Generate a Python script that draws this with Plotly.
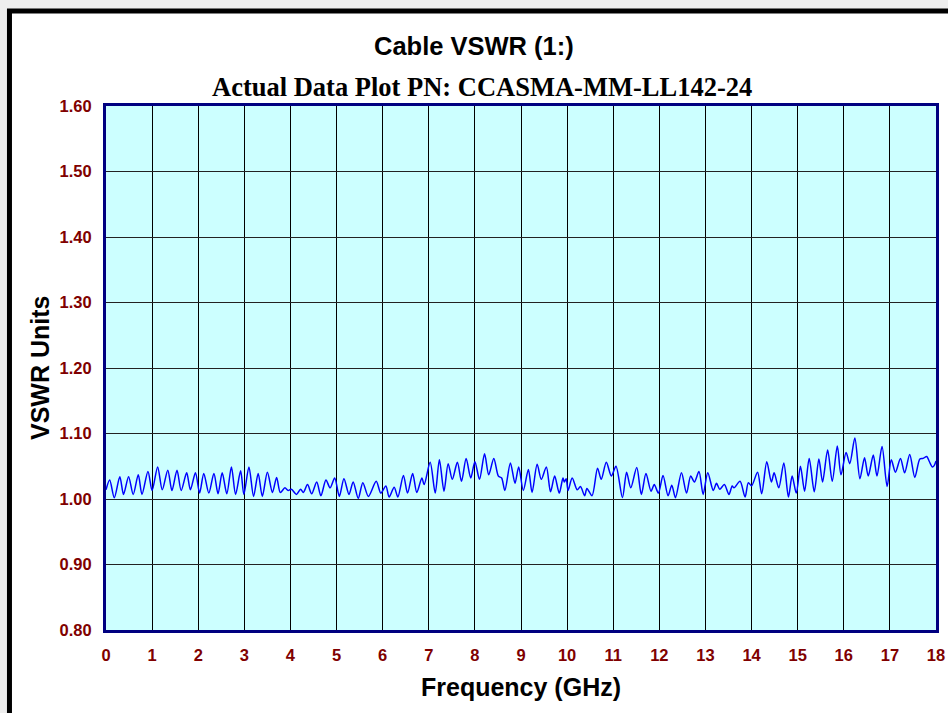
import plotly.graph_objects as go

freq_ghz = [
    0.00, 0.08, 0.18, 0.30, 0.38, 0.49, 0.59, 0.70, 0.78, 0.91, 1.00, 1.12, 1.22, 1.34, 1.43,
    1.54, 1.63, 1.75, 1.83, 1.94, 2.03, 2.12, 2.23, 2.34, 2.43, 2.52, 2.62, 2.72, 2.81, 2.92,
    2.99, 3.10, 3.20, 3.30, 3.39, 3.50, 3.61, 3.70, 3.78, 3.88, 3.95, 4.02, 4.13, 4.22, 4.28,
    4.37, 4.46, 4.57, 4.66, 4.77, 4.86, 4.96, 5.06, 5.16, 5.27, 5.36, 5.47, 5.57, 5.69, 5.86,
    5.96, 6.07, 6.14, 6.25, 6.33, 6.45, 6.54, 6.65, 6.74, 6.85, 6.90, 7.03, 7.14, 7.23, 7.33,
    7.42, 7.51, 7.62, 7.71, 7.81, 7.91, 8.00, 8.10, 8.21, 8.30, 8.41, 8.51, 8.58, 8.65, 8.77,
    8.87, 8.95, 9.05, 9.16, 9.24, 9.35, 9.44, 9.55, 9.64, 9.73, 9.83, 9.91, 9.94, 9.98, 10.02,
    10.11, 10.22, 10.29, 10.38, 10.43, 10.54, 10.66, 10.74, 10.85, 10.96, 11.06, 11.20, 11.29, 11.38, 11.51,
    11.61, 11.71, 11.82, 11.89, 11.98, 12.08, 12.19, 12.27, 12.35, 12.48, 12.59, 12.68, 12.76, 12.86, 12.95,
    13.05, 13.17, 13.24, 13.31, 13.41, 13.51, 13.58, 13.62, 13.75, 13.86, 13.93, 14.00, 14.13, 14.22, 14.33,
    14.43, 14.49, 14.59, 14.70, 14.80, 14.88, 14.97, 15.06, 15.15, 15.25, 15.36, 15.46, 15.54, 15.65, 15.75,
    15.86, 15.94, 16.05, 16.13, 16.24, 16.35, 16.45, 16.53, 16.64, 16.72, 16.83, 16.94, 17.03, 17.12, 17.23,
    17.32, 17.43, 17.54, 17.65, 17.72, 17.80, 17.85, 17.92, 17.96, 18.00,
]

vswr = [
    1.014, 1.029, 1.002, 1.034, 1.007, 1.034, 1.007, 1.037, 1.007, 1.042, 1.013, 1.049, 1.014, 1.044, 1.013,
    1.044, 1.013, 1.040, 1.014, 1.040, 1.009, 1.039, 1.009, 1.039, 1.008, 1.040, 1.008, 1.049, 1.007, 1.043,
    1.007, 1.049, 1.004, 1.039, 1.004, 1.041, 1.010, 1.033, 1.010, 1.017, 1.013, 1.015, 1.007, 1.015, 1.010,
    1.022, 1.008, 1.026, 1.005, 1.029, 1.017, 1.032, 1.004, 1.031, 1.007, 1.026, 1.001, 1.025, 1.004, 1.027,
    1.009, 1.020, 1.003, 1.018, 1.003, 1.036, 1.009, 1.039, 1.010, 1.032, 1.022, 1.056, 1.009, 1.060, 1.012,
    1.054, 1.030, 1.056, 1.027, 1.062, 1.032, 1.057, 1.030, 1.069, 1.037, 1.062, 1.035, 1.032, 1.013, 1.055,
    1.024, 1.049, 1.013, 1.045, 1.010, 1.053, 1.030, 1.049, 1.011, 1.035, 1.009, 1.032, 1.026, 1.031, 1.013,
    1.032, 1.014, 1.019, 1.005, 1.016, 1.005, 1.047, 1.030, 1.056, 1.035, 1.050, 1.002, 1.041, 1.017, 1.048,
    1.007, 1.039, 1.012, 1.022, 1.009, 1.036, 1.005, 1.021, 1.002, 1.040, 1.009, 1.035, 1.026, 1.042, 1.007,
    1.040, 1.013, 1.024, 1.015, 1.022, 1.007, 1.020, 1.017, 1.027, 1.003, 1.025, 1.020, 1.041, 1.008, 1.057,
    1.026, 1.040, 1.017, 1.055, 1.003, 1.035, 1.009, 1.050, 1.012, 1.062, 1.011, 1.061, 1.026, 1.075, 1.027,
    1.081, 1.037, 1.071, 1.054, 1.093, 1.031, 1.063, 1.035, 1.067, 1.035, 1.080, 1.019, 1.060, 1.041, 1.062,
    1.040, 1.068, 1.033, 1.061, 1.062, 1.065, 1.058, 1.049, 1.051, 1.058,
]

x_ticks = list(range(0, 19))
y_ticks = [0.80, 0.90, 1.00, 1.10, 1.20, 1.30, 1.40, 1.50, 1.60]
y_tick_labels = ["%.2f" % v for v in y_ticks]

title_text = "Cable VSWR (1:)"
subtitle_text = "Actual Data Plot PN: CCASMA-MM-LL142-24"
x_title = "Frequency (GHz)"
y_title = "VSWR Units"

fig = go.Figure()
fig.add_trace(go.Scatter(
    x=freq_ghz, y=vswr, mode="lines",
    line=dict(color="#0000FF", width=1.5, shape="spline", smoothing=0.8),
    hoverinfo="x+y", showlegend=False,
))

tick_font = dict(family="Liberation Sans, Arial, sans-serif", size=16.5, color="#800000", weight="bold")

fig.update_layout(
    width=948, height=713,
    margin=dict(l=106, r=12, t=106, b=83),
    paper_bgcolor="#eeeeee",
    plot_bgcolor="#CCFFFF",
    showlegend=False,
    xaxis=dict(
        range=[0, 18], tickvals=x_ticks, ticktext=[str(v) for v in x_ticks],
        showgrid=True, gridcolor="#000000", gridwidth=1,
        zeroline=False, showline=True, linecolor="#000080", linewidth=3, mirror=True,
        ticks="", tickfont=tick_font, ticklabelstandoff=8, automargin=False,
    ),
    yaxis=dict(
        range=[0.80, 1.60], tickvals=y_ticks, ticktext=y_tick_labels,
        showgrid=True, gridcolor="#222222", gridwidth=1,
        zeroline=False, showline=True, linecolor="#000080", linewidth=3, mirror=True,
        ticks="", tickfont=tick_font, ticklabelstandoff=8, automargin=False,
    ),
    shapes=[
        dict(type="rect", xref="paper", yref="paper", layer="below",
             x0=-0.1163, x1=1.06, y0=-0.3, y1=1.1813,
             fillcolor="#FFFFFF", line=dict(color="#000000", width=5)),
        dict(type="rect", xref="paper", yref="paper", layer="below",
             x0=0, x1=1, y0=0, y1=1,
             fillcolor="#CCFFFF", line=dict(width=0)),
    ],
    annotations=[
        dict(text=title_text, xref="paper", yref="paper", x=0.4434, y=1.1145,
             xanchor="center", yanchor="middle", showarrow=False,
             font=dict(family="Liberation Sans, Arial, sans-serif", size=25.5, color="#000000", weight="bold")),
        dict(text=subtitle_text, xref="paper", yref="paper", x=0.453, y=1.0363,
             xanchor="center", yanchor="middle", showarrow=False,
             font=dict(family="Liberation Serif, Times New Roman, serif", size=26.5, color="#000000", weight="bold")),
        dict(text=x_title, xref="paper", yref="paper", x=0.5, y=-0.1088,
             xanchor="center", yanchor="middle", showarrow=False,
             font=dict(family="Liberation Sans, Arial, sans-serif", size=25, color="#000000", weight="bold")),
        dict(text=y_title, xref="paper", yref="paper", x=-0.0795, y=0.5, textangle=-90,
             xanchor="center", yanchor="middle", showarrow=False,
             font=dict(family="Liberation Sans, Arial, sans-serif", size=25, color="#000000", weight="bold")),
    ],
)

fig.write_html(
    "out.html",
    config={"displayModeBar": False},
    post_script="document.body.style.margin='0px';document.body.style.overflow='hidden';",
)
